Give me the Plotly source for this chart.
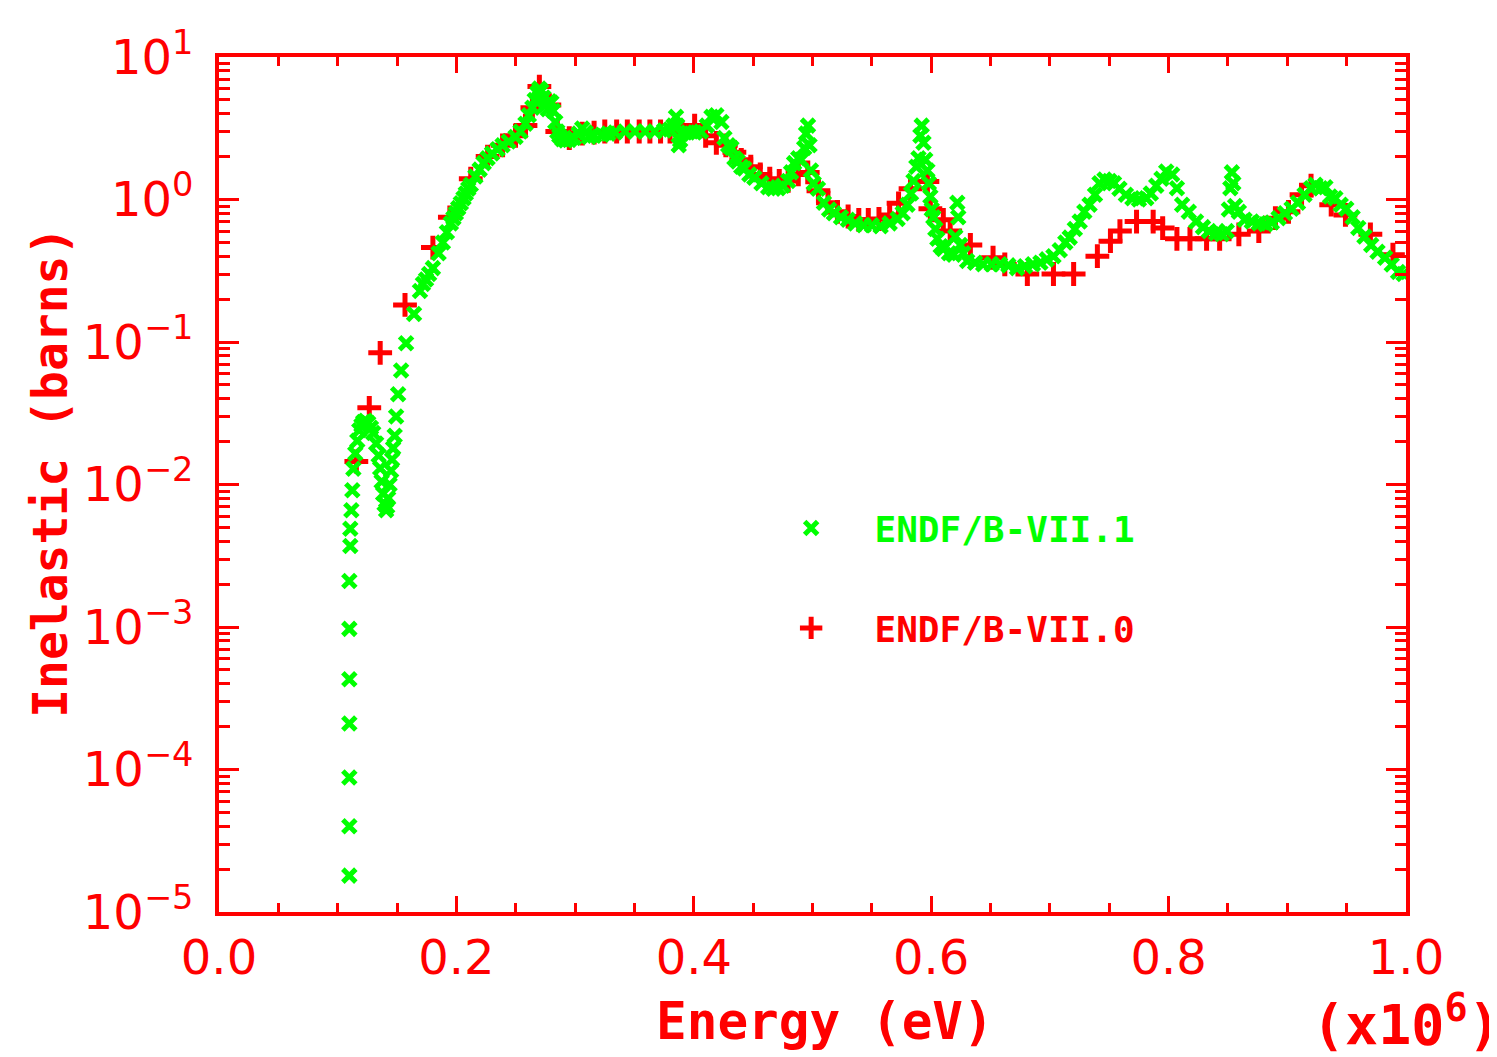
import plotly.graph_objects as go

# ENDF/B-VII.1 (green x) : energy in units of 1e6 eV, inelastic cross section in barns
e71 = [0.1098, 0.1098, 0.1098, 0.1098, 0.1098, 0.1098, 0.1098, 0.1106, 0.1106, 0.1115,
       0.1123, 0.1132, 0.1148, 0.1165, 0.1182, 0.1200, 0.1215, 0.1235, 0.1257, 0.1280,
       0.1299, 0.1324, 0.1345, 0.1358, 0.1370, 0.1383, 0.1395, 0.1408, 0.1417, 0.1425,
       0.1437, 0.1450, 0.1458, 0.1467, 0.1480, 0.1492, 0.1509, 0.1534, 0.1576, 0.1643,
       0.1693, 0.1718, 0.1744, 0.1770, 0.1802, 0.1850, 0.1886, 0.1920, 0.1953, 0.1975,
       0.1995, 0.2015, 0.2037, 0.2060, 0.2079, 0.2100, 0.2121, 0.2160, 0.2196, 0.2230,
       0.2263, 0.2300, 0.2347, 0.2389, 0.2440, 0.2498, 0.2540, 0.2582, 0.2610, 0.2640,
       0.2660, 0.2682, 0.2699, 0.2715, 0.2733, 0.2750, 0.2770, 0.2783, 0.2800, 0.2815,
       0.2833, 0.2850, 0.2867, 0.2892, 0.2920, 0.2951, 0.2990, 0.3030, 0.3060, 0.3090,
       0.3118, 0.3160, 0.3227, 0.3280, 0.3336, 0.3420, 0.3504, 0.3590, 0.3671, 0.3750,
       0.3800, 0.3830, 0.3850, 0.3860, 0.3873, 0.3885, 0.3898, 0.3950, 0.4007, 0.4060,
       0.4110, 0.4149, 0.4190, 0.4233, 0.4258, 0.4290, 0.4317, 0.4342, 0.4370, 0.4400,
       0.4426, 0.4468, 0.4510, 0.4570, 0.4627, 0.4670, 0.4711, 0.4750, 0.4795, 0.4820,
       0.4845, 0.4880, 0.4904, 0.4930, 0.4946, 0.4962, 0.4975, 0.4987, 0.5010, 0.5046,
       0.5096, 0.5140, 0.5180, 0.5240, 0.5298, 0.5360, 0.5432, 0.5500, 0.5574, 0.5650,
       0.5717, 0.5760, 0.5800, 0.5830, 0.5851, 0.5875, 0.5893, 0.5909, 0.5920, 0.5935,
       0.5950, 0.5968, 0.5980, 0.5993, 0.6005, 0.6018, 0.6035, 0.6052, 0.6080, 0.6102,
       0.6150, 0.6190, 0.6203, 0.6220, 0.6228, 0.6245, 0.6270, 0.6303, 0.6370, 0.6438,
       0.6510, 0.6580, 0.6650, 0.6723, 0.6790, 0.6857, 0.6920, 0.6974, 0.7030, 0.7083,
       0.7130, 0.7167, 0.7210, 0.7251, 0.7290, 0.7334, 0.7380, 0.7418, 0.7460, 0.7502,
       0.7540, 0.7586, 0.7640, 0.7695, 0.7750, 0.7812, 0.7850, 0.7896, 0.7940, 0.7980,
       0.8030, 0.8070, 0.8114, 0.8170, 0.8231, 0.8290, 0.8340, 0.8400, 0.8449, 0.8490,
       0.8508, 0.8520, 0.8533, 0.8545, 0.8560, 0.8592, 0.8640, 0.8701, 0.8760, 0.8818,
       0.8870, 0.8927, 0.8980, 0.9036, 0.9090, 0.9145, 0.9200, 0.9237, 0.9280, 0.9321,
       0.9360, 0.9405, 0.9450, 0.9497, 0.9550, 0.9598, 0.9650, 0.9707, 0.9760, 0.9824,
       0.9880, 0.9933, 0.9980]
s71 = [1.8e-5, 4.0e-5, 8.8e-5, 2.1e-4, 4.3e-4, 9.7e-4, 2.1e-3, 3.7e-3, 4.9e-3, 6.6e-3,
       9.1e-3, 1.29e-2, 1.65e-2, 2.03e-2, 2.4e-2, 2.6e-2, 2.75e-2, 2.8e-2, 2.7e-2, 2.5e-2,
       2.3e-2, 1.94e-2, 1.6e-2, 1.3e-2, 1.05e-2, 8.6e-3, 7.3e-3, 6.6e-3, 7.0e-3, 8.0e-3,
       1.0e-2, 1.25e-2, 1.5e-2, 1.8e-2, 2.2e-2, 3.0e-2, 4.3e-2, 6.3e-2, 9.8e-2, 0.157,
       0.228, 0.255, 0.275, 0.30, 0.33, 0.42, 0.50, 0.59, 0.68, 0.74,
       0.80, 0.87, 0.94, 1.02, 1.10, 1.19, 1.27, 1.45, 1.62, 1.80,
       1.95, 2.10, 2.25, 2.40, 2.55, 2.75, 3.0, 3.4, 3.9, 4.4,
       5.0, 5.6, 6.0, 5.8, 5.2, 4.6, 4.3, 4.9, 4.8, 4.2,
       3.5, 3.0, 2.8, 2.65, 2.6, 2.62, 2.7, 2.9, 3.15, 2.95,
       2.75, 2.8, 2.85, 2.9, 2.95, 3.0, 3.0, 3.0, 3.0, 3.05,
       3.1, 3.3, 3.8, 3.3, 2.4, 2.6, 2.9, 2.95, 2.95, 3.0,
       3.3, 3.8, 3.9, 3.5, 2.7, 2.4, 2.3, 1.95, 1.85, 1.7,
       1.65, 1.50, 1.42, 1.30, 1.22, 1.19, 1.20, 1.25, 1.35, 1.55,
       1.8, 1.95, 1.9, 2.3, 2.9, 3.3, 2.4, 1.6, 1.3, 1.19,
       0.95, 0.85, 0.80, 0.75, 0.72, 0.68, 0.66, 0.66, 0.65, 0.68,
       0.73, 0.80, 0.92, 1.10, 1.35, 1.70, 1.95, 2.8, 3.3, 2.5,
       1.9, 1.6, 1.3, 1.05, 0.85, 0.75, 0.62, 0.53, 0.47, 0.45,
       0.42, 0.41, 0.55, 0.95, 0.75, 0.48, 0.42, 0.37, 0.36, 0.351,
       0.351, 0.351, 0.345, 0.33, 0.34, 0.351, 0.36, 0.38, 0.40, 0.44,
       0.50, 0.54, 0.62, 0.70, 0.82, 0.92, 1.08, 1.30, 1.38, 1.35,
       1.30, 1.19, 1.08, 1.02, 1.00, 1.02, 1.10, 1.25, 1.40, 1.57,
       1.50, 1.20, 0.92, 0.82, 0.70, 0.64, 0.60, 0.58, 0.57, 0.60,
       0.85, 1.2, 1.55, 1.3, 0.9, 0.82, 0.72, 0.70, 0.68, 0.67,
       0.69, 0.74, 0.80, 0.86, 0.95, 1.08, 1.20, 1.27, 1.20, 1.22,
       1.05, 1.02, 0.92, 0.86, 0.75, 0.63, 0.55, 0.48, 0.43, 0.39,
       0.35, 0.31, 0.30]

# ENDF/B-VII.0 (red +)
e70 = [0.1157, 0.1266, 0.1358, 0.1567, 0.1802, 0.1945, 0.2121, 0.2263, 0.2389, 0.2498,
       0.2582, 0.2640, 0.2699, 0.2783, 0.2850, 0.2951, 0.3060, 0.3160, 0.3250, 0.3350,
       0.3440, 0.3540, 0.3630, 0.3720, 0.3800, 0.3900, 0.4007, 0.4100, 0.4190, 0.4270,
       0.4342, 0.4400, 0.4480, 0.4560, 0.4640, 0.4720, 0.4795, 0.4880, 0.4960, 0.5050,
       0.5130, 0.5210, 0.5300, 0.5390, 0.5470, 0.5560, 0.5650, 0.5725, 0.5826, 0.5968,
       0.5993, 0.6102, 0.6160, 0.6330, 0.6521, 0.6620, 0.6810, 0.7030, 0.7200, 0.7400,
       0.7510, 0.7590, 0.7730, 0.7870, 0.7950, 0.8070, 0.8180, 0.8320, 0.8430, 0.8592,
       0.8760, 0.8900, 0.9010, 0.9120, 0.9200, 0.9370, 0.9490, 0.9700, 0.9890]
s70 = [1.45e-2, 3.45e-2, 8.4e-2, 0.182, 0.46, 0.75, 1.4, 2.0, 2.4, 2.8,
       3.3, 4.4, 6.2, 4.6, 3.0, 2.7, 2.9, 2.95, 3.0, 3.0,
       3.0, 3.0, 3.0, 3.0, 3.0, 2.95, 3.3, 2.8, 2.5, 2.4,
       2.15, 1.9, 1.7, 1.5, 1.4, 1.35, 1.35, 1.5, 1.55, 1.15,
       0.95, 0.82, 0.76, 0.72, 0.72, 0.73, 0.78, 0.94, 1.19, 1.34,
       0.86, 0.72, 0.60, 0.48, 0.39, 0.35, 0.30, 0.30, 0.30, 0.40,
       0.51, 0.60, 0.70, 0.70, 0.63, 0.53, 0.53, 0.53, 0.53, 0.57,
       0.60, 0.74, 0.82, 1.08, 1.25, 0.92, 0.78, 0.57, 0.41]

series_names = ["ENDF/B-VII.1", "ENDF/B-VII.0"]
ytick_vals = [1e-5, 1e-4, 1e-3, 1e-2, 1e-1, 1e0, 1e1]
ytick_text = ["10<sup>\u22125</sup>", "10<sup>\u22124</sup>", "10<sup>\u22123</sup>",
              "10<sup>\u22122</sup>", "10<sup>\u22121</sup>", "10<sup>0</sup>", "10<sup>1</sup>"]

RED = "#ff0000"
GREEN = "#00ff00"
MONO = "DejaVu Sans Mono"
PAD = "\u00a0\u00a0"

fig = go.Figure()
fig.add_trace(go.Scatter(
    x=e70, y=s70, mode="markers", legendgroup="b", legendrank=2,
    name=PAD + "<span style='color:%s'>%s</span>" % (RED, series_names[1]),
    marker=dict(symbol="cross-thin", size=17, color=RED, line=dict(color=RED, width=5)),
))
fig.add_trace(go.Scatter(
    x=e71, y=s71, mode="markers", legendgroup="a", legendrank=1,
    name=PAD + "<span style='color:%s'>%s</span>" % (GREEN, series_names[0]),
    marker=dict(symbol="x-thin", size=13, color=GREEN, line=dict(color=GREEN, width=5)),
))

axis_common = dict(
    showline=True, linecolor=RED, linewidth=4, mirror="ticks",
    ticks="inside", tickcolor=RED, tickwidth=3,
    showgrid=False, zeroline=False,
    tickfont=dict(family="DejaVu Sans", size=48, color=RED),
)

fig.update_xaxes(
    **axis_common, range=[0, 1.0], dtick=0.2, tick0=0, tickformat=".1f", ticklen=16,
    minor=dict(dtick=0.05, ticks="inside", ticklen=9, tickcolor=RED, tickwidth=3, showgrid=False),
)
fig.update_yaxes(
    **axis_common, type="log", range=[-5, 1], tickmode="array",
    tickvals=ytick_vals, ticktext=ytick_text, ticklen=20, ticklabelstandoff=12,
    minor=dict(dtick="D1", ticks="inside", ticklen=11, tickcolor=RED, tickwidth=3, showgrid=False),
)

fig.add_annotation(
    text="Energy (eV)", xref="paper", yref="paper", x=0.5105, y=-0.128,
    xanchor="center", yanchor="middle", showarrow=False,
    font=dict(family=MONO, size=51, color=RED, weight="bold"),
)
fig.add_annotation(
    text="Inelastic (barns)", xref="paper", yref="paper", x=-0.1425, y=0.5146,
    xanchor="center", yanchor="middle", textangle=-90, showarrow=False,
    font=dict(family=MONO, size=48, color=RED, weight="bold"),
)
fig.add_annotation(
    text="(x10<sup>6</sup>)", xref="paper", yref="paper", x=0.9195, y=-0.128,
    xanchor="left", yanchor="middle", showarrow=False,
    font=dict(family=MONO, size=55, color=RED, weight="bold"),
)

fig.update_layout(
    width=1489, height=1049,
    margin=dict(l=211, r=91, t=49, b=145),
    paper_bgcolor="white", plot_bgcolor="white",
    showlegend=True,
    legend=dict(
        x=0.482, y=0.484, xanchor="left", yanchor="top",
        traceorder="grouped", tracegroupgap=50,
        font=dict(family=MONO, size=36, weight="bold"),
        bgcolor="rgba(0,0,0,0)",
    ),
)

fig.write_html("out.html")
